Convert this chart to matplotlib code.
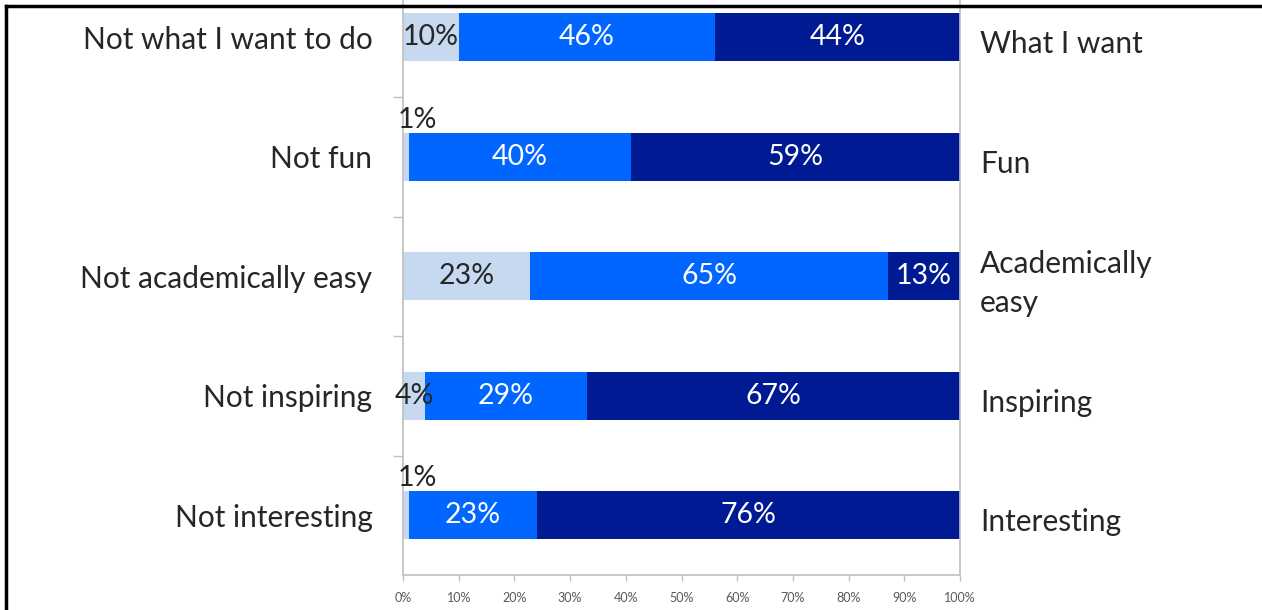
import numpy as np
import matplotlib
matplotlib.use('Agg')
import matplotlib.pyplot as plt
from matplotlib.lines import Line2D

plt.rcParams['font.family'] = ['Lato', 'DejaVu Sans']

left_labels = ['Not what I want to do', 'Not fun', 'Not academically easy',
               'Not inspiring', 'Not interesting']
right_labels = ['What I want', 'Fun', 'Academically\neasy', 'Inspiring', 'Interesting']
neg = [10, 1, 23, 4, 1]
mid = [46, 40, 65, 29, 23]
pos = [44, 59, 13, 67, 76]
xticks = [0, 10, 20, 30, 40, 50, 60, 70, 80, 90, 100]

colors = ['#C6D9F1', '#0066FF', '#001A94']
txtcol = ['#262626', 'white', 'white']

#*********************************************************************************************
vals = np.array([neg, mid, pos], dtype=float).T
shares = vals / vals.sum(axis=1, keepdims=True) * 100
ypos = np.arange(len(left_labels))

fig = plt.figure(figsize=(12.62, 6.10), dpi=100)
ax = fig.add_axes([403/1262, 1-575/610, 557/1262, (575+22.5)/610])

left = np.zeros(len(ypos))
for k in range(3):
    ax.barh(ypos, shares[:, k], left=left, height=0.40, color=colors[k], linewidth=0)
    for i in ypos:
        w = shares[i, k]
        if w < 2:
            ax.text(-0.9, i - 0.20, '{}%'.format(int(vals[i, k])), ha='left', va='bottom',
                    fontsize=20.5, color=txtcol[0], clip_on=False)
        else:
            ax.text(left[i] + w/2, i, '{}%'.format(int(vals[i, k])), ha='center', va='center',
                    fontsize=20.5, color=txtcol[k])
    left += shares[:, k]

for i in ypos:
    ax.text(103.6, i + 0.06, right_labels[i], ha='left', va='center', fontsize=21.5,
            color='#262626', linespacing=1.45, clip_on=False)

ax.set_xlim(0, 100)
ax.set_ylim(4.5, -0.5)
ax.set_yticks(ypos)
ax.set_yticklabels(left_labels, fontsize=21.5, color='#262626')
ax.tick_params(axis='y', which='major', length=0, pad=22)
ax.set_yticks(ypos[:-1] + 0.5, minor=True)
ax.tick_params(axis='y', which='minor', length=7, color='#BFBFBF', width=1)
ax.set_xticks(xticks)
ax.set_xticklabels(['{}%'.format(t) for t in xticks], fontsize=9, color='#595959')
ax.tick_params(axis='x', length=4, color='#BFBFBF', width=1, pad=8)
for s in ['left', 'bottom', 'right']:
    ax.spines[s].set_color('#BFBFBF')
    ax.spines[s].set_linewidth(1.2)
ax.spines['top'].set_visible(False)

# frame around the picture
fig.add_artist(Line2D([6/1262, 1], [1-6/610, 1-6/610], color='black', linewidth=2.5,
                      transform=fig.transFigure))
fig.add_artist(Line2D([6/1262, 6/1262], [0, 1-6/610], color='black', linewidth=2.5,
                      transform=fig.transFigure))

plt.savefig('out.png', dpi=100)
